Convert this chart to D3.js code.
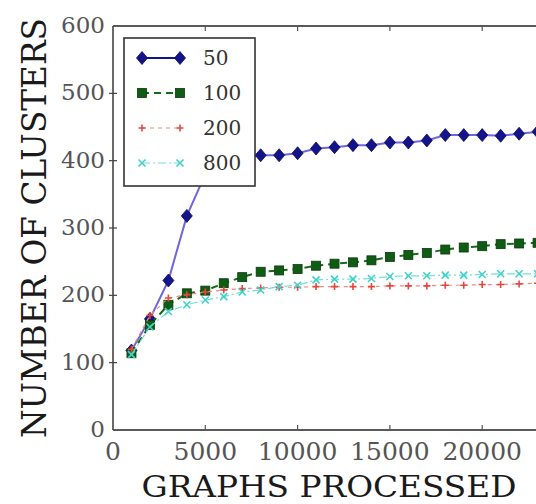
<!DOCTYPE html>
<html>
<head>
<meta charset="utf-8">
<script src="https://cdn.jsdelivr.net/npm/d3@7"></script>
<style>
  body { margin: 0; background: #fff; }
  svg { display: block; }
</style>
</head>
<body>
<div id="chart"></div>
<script>
//Daten: Anzahl der verarbeiteten Graphen (x) und Anzahl der Cluster je Reihe
var graphsProcessed = [1000, 2000, 3000, 4000, 5000, 6000, 7000, 8000, 9000, 10000, 11000, 12000,
    13000, 14000, 15000, 16000, 17000, 18000, 19000, 20000, 21000, 22000, 23000];
var seriesNames = ["50", "100", "200", "800"];
var clusters50 = [118, 165, 222, 318, 380, 398, 405, 408, 408, 411, 418, 420,
    423, 423, 427, 427, 430, 438, 438, 438, 437, 440, 443];
var clusters100 = [114, 156, 186, 203, 207, 218, 227, 235, 237, 239, 244, 247,
    249, 252, 257, 260, 263, 268, 271, 273, 276, 277, 278];
var clusters200 = [120, 170, 196, 201, 205, 208, 210, 211, 212, 212, 213, 213,
    213, 213, 214, 214, 214, 215, 215, 216, 216, 217, 218];
var clusters800 = [112, 153, 176, 186, 193, 198, 205, 208, 213, 215, 223, 224,
    224, 225, 228, 229, 229, 230, 230, 231, 232, 232, 232];
var xTicks = [0, 5000, 10000, 15000, 20000];
var yTicks = [0, 100, 200, 300, 400, 500, 600];

var width = 536, height = 504;
var margin = {top: 26, left: 113, bottom: 430};

var svg = d3.select("#chart").append("svg")
        .attr("width", width)
        .attr("height", height)
        .style("font-family", "'DejaVu Serif', 'Liberation Serif', serif");

//Skalen (die rechte Achse liegt ausserhalb des Bildes)
var x = d3.scaleLinear().domain([0, 25000]).range([margin.left, margin.left + 461.5]);
var y = d3.scaleLinear().domain([0, 600]).range([margin.bottom, margin.top]);

//Stile der vier Reihen
var styles = [
    {name: seriesNames[0], values: clusters50, line: "#6f66dc", lineW: 2, dash: null,
        marker: "diamond", fill: "#13138a", legendLine: "#13138a"},
    {name: seriesNames[1], values: clusters100, line: "#166b1a", lineW: 2, dash: "7,5",
        marker: "square", fill: "#0f5c14", legendLine: "#166b1a"},
    {name: seriesNames[2], values: clusters200, line: "#f08a80", lineW: 1.2, dash: "4,4",
        marker: "plus", fill: "#e8463c", legendLine: "#f08a80"},
    {name: seriesNames[3], values: clusters800, line: "#6fe0d8", lineW: 1.2, dash: "8,3,2,3",
        marker: "cross", fill: "#3fd2c8", legendLine: "#6fe0d8"}
];

function drawMarker(g, type, color) {
    if (type === "diamond") {
        g.append("path").attr("d", "M0,-6.5L5.5,0L0,6.5L-5.5,0Z")
                .attr("fill", color).attr("stroke", "#0a0a60").attr("stroke-width", 0.8);
    } else if (type === "square") {
        g.append("rect").attr("x", -4.5).attr("y", -4.5).attr("width", 9).attr("height", 9)
                .attr("fill", color).attr("stroke", "#0a3a0a").attr("stroke-width", 0.8);
    } else if (type === "plus") {
        g.append("path").attr("d", "M-3.5,0H3.5M0,-3.5V3.5")
                .attr("stroke", color).attr("stroke-width", 1.6).attr("fill", "none");
    } else {
        g.append("path").attr("d", "M-3.5,-3.5L3.5,3.5M-3.5,3.5L3.5,-3.5")
                .attr("stroke", color).attr("stroke-width", 1.6).attr("fill", "none");
    }
}

//Linien und Marker
var lineGen = d3.line()
        .x(function (d, i) { return x(graphsProcessed[i]); })
        .y(function (d) { return y(d); });

styles.forEach(function (s) {
    svg.append("path")
            .attr("d", lineGen(s.values))
            .attr("fill", "none")
            .attr("stroke", s.line)
            .attr("stroke-width", s.lineW)
            .attr("stroke-dasharray", s.dash);
    s.values.forEach(function (v, i) {
        var g = svg.append("g")
                .attr("transform", "translate(" + x(graphsProcessed[i]) + "," + y(v) + ")");
        drawMarker(g, s.marker, s.fill);
    });
});

//Achsenlinien
svg.append("line").attr("x1", x(0)).attr("x2", width).attr("y1", y(600)).attr("y2", y(600))
        .attr("stroke", "#222").attr("stroke-width", 1.6);
svg.append("line").attr("x1", x(0)).attr("x2", width).attr("y1", y(0)).attr("y2", y(0))
        .attr("stroke", "#222").attr("stroke-width", 1.6);
svg.append("line").attr("x1", x(0)).attr("x2", x(0)).attr("y1", y(0)).attr("y2", y(600))
        .attr("stroke", "#444").attr("stroke-width", 1.6);

//Striche und Beschriftung X
xTicks.forEach(function (t) {
    if (t > 0) {
        svg.append("line").attr("x1", x(t)).attr("x2", x(t)).attr("y1", y(0)).attr("y2", y(0) - 5)
                .attr("stroke", "#555").attr("stroke-width", 1.2);
        svg.append("line").attr("x1", x(t)).attr("x2", x(t)).attr("y1", y(600)).attr("y2", y(600) + 5)
                .attr("stroke", "#555").attr("stroke-width", 1.2);
    }
    svg.append("text")
            .attr("x", x(t)).attr("y", 451)
            .attr("text-anchor", "middle")
            .attr("dominant-baseline", "central")
            .attr("font-size", 25)
            .attr("fill", "#555")
            .text(t);
});

//Striche und Beschriftung Y
yTicks.forEach(function (t) {
    if (t > 0 && t < 600) {
        svg.append("line").attr("x1", x(0) - 4).attr("x2", x(0) + 4).attr("y1", y(t)).attr("y2", y(t))
                .attr("stroke", "#444").attr("stroke-width", 1.2);
    }
    svg.append("text")
            .attr("x", 105).attr("y", y(t) - 1)
            .attr("text-anchor", "end")
            .attr("dominant-baseline", "central")
            .attr("font-size", 23)
            .attr("fill", "#555")
            .text(t);
});

//Achsentitel
svg.append("text")
        .attr("x", 329).attr("y", 497)
        .attr("text-anchor", "middle")
        .attr("font-size", 30)
        .attr("fill", "#1a1a1a")
        .attr("textLength", 375)
        .attr("lengthAdjust", "spacingAndGlyphs")
        .text("GRAPHS PROCESSED");
svg.append("text")
        .attr("transform", "translate(46,228) rotate(-90)")
        .attr("text-anchor", "middle")
        .attr("font-size", 33)
        .attr("fill", "#1a1a1a")
        .attr("textLength", 420)
        .attr("lengthAdjust", "spacingAndGlyphs")
        .text("NUMBER OF CLUSTERS");

//Legende
var legend = svg.append("g");
legend.append("rect")
        .attr("x", 124).attr("y", 38).attr("width", 131).attr("height", 148)
        .attr("fill", "#fff").attr("stroke", "#333").attr("stroke-width", 1.6);
styles.forEach(function (s, i) {
    var ly = 58 + i * 35;
    legend.append("line")
            .attr("x1", 142).attr("x2", 180).attr("y1", ly).attr("y2", ly)
            .attr("stroke", s.legendLine)
            .attr("stroke-width", s.lineW)
            .attr("stroke-dasharray", s.dash);
    [142, 180].forEach(function (mx) {
        var g = legend.append("g").attr("transform", "translate(" + mx + "," + ly + ")");
        drawMarker(g, s.marker, s.fill);
    });
    legend.append("text")
            .attr("x", 203).attr("y", ly)
            .attr("dominant-baseline", "central")
            .attr("font-size", 20)
            .attr("fill", "#333")
            .text(s.name);
});
</script>
</body>
</html>
